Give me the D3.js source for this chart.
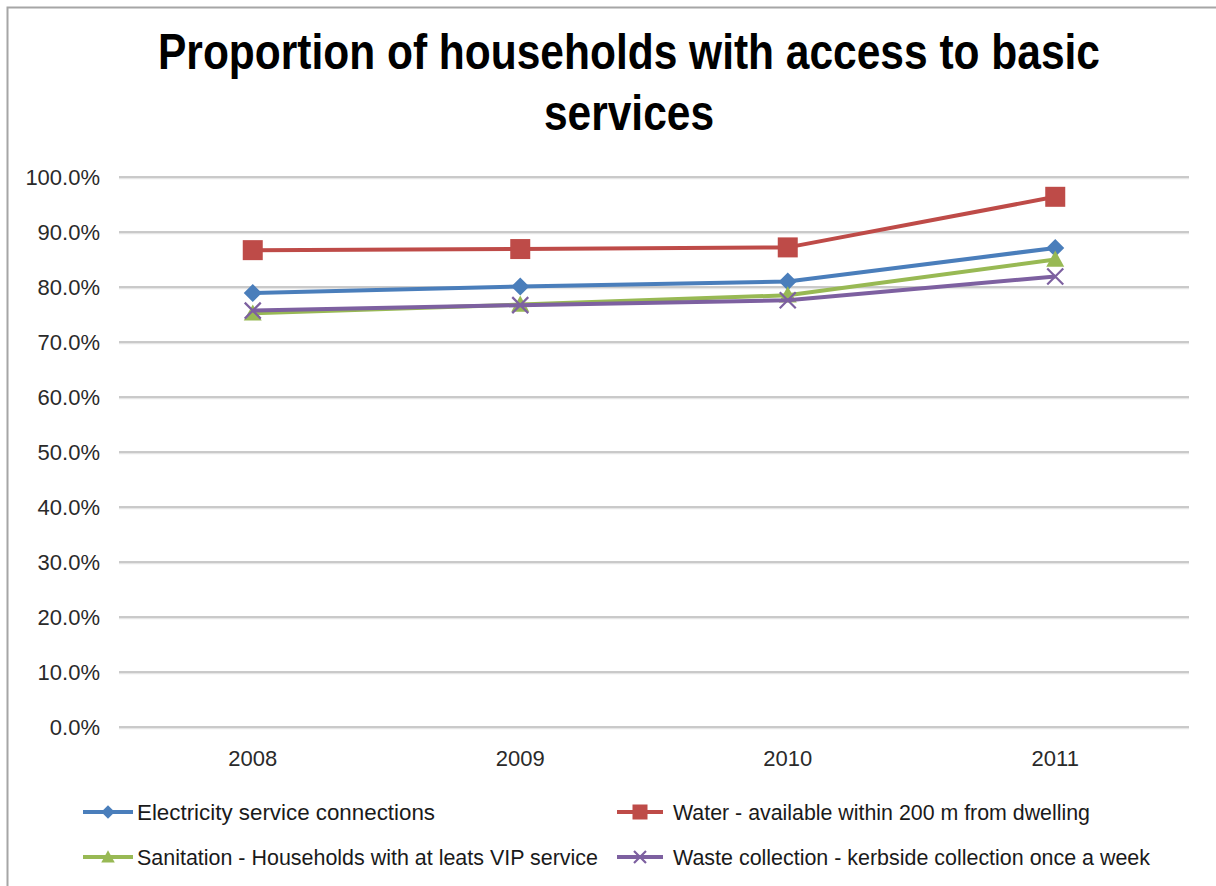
<!DOCTYPE html>
<html>
<head>
<meta charset="utf-8">
<script src="https://cdn.jsdelivr.net/npm/d3@7"></script>
<style>
  html, body { margin: 0; padding: 0; background: #fff; }
  svg { display: block; }
  text { font-family: "Liberation Sans", Arial, sans-serif; }
</style>
</head>
<body>
<svg id="chart" width="1216" height="886"></svg>
<script>
// Survey years and series values (share of households)
const years = ["2008", "2009", "2010", "2011"];
const electricity = [0.789, 0.801, 0.810, 0.871];
const water = [0.867, 0.869, 0.872, 0.964];
const sanitation = [0.752, 0.768, 0.785, 0.850];
const waste = [0.757, 0.767, 0.776, 0.819];
const seriesNames = [
  "Electricity  service connections",
  "Water - available within 200 m from dwelling",
  "Sanitation - Households with at leats VIP service",
  "Waste collection - kerbside collection once a week"
];
const yTicks = [0, 0.1, 0.2, 0.3, 0.4, 0.5, 0.6, 0.7, 0.8, 0.9, 1.0];
const titleLines = ["Proportion of households with access to basic", "services"];

const series = [
  { name: seriesNames[0], values: electricity, color: "#4a7ebb", marker: "diamond" },
  { name: seriesNames[1], values: water, color: "#be4b48", marker: "square" },
  { name: seriesNames[2], values: sanitation, color: "#98b954", marker: "triangle" },
  { name: seriesNames[3], values: waste, color: "#7d60a0", marker: "cross" }
];

const svg = d3.select("#chart");

// Chart area frame
svg.append("rect")
  .attr("x", 7.5).attr("y", 7.5)
  .attr("width", 1230).attr("height", 900)
  .attr("fill", "#fff")
  .attr("stroke", "#a6a6a6")
  .attr("stroke-width", 2);

// Title: bold, horizontally condensed, two centred lines
const titleCondense = 0.85;
svg.append("g").selectAll("g")
  .data(titleLines)
  .join("g")
  .attr("transform", (d, i) => `translate(629,${69 + i * 61}) scale(${titleCondense},1)`)
  .append("text")
  .attr("x", 0).attr("y", 0)
  .attr("text-anchor", "middle")
  .attr("font-size", 50)
  .attr("font-weight", "bold")
  .attr("fill", "#000")
  .text(d => d);

const plot = { left: 119, right: 1189, top: 177, bottom: 727 };

const x = d3.scaleBand().domain(years).range([plot.left, plot.right]);
const y = d3.scaleLinear().domain([0, 1]).range([plot.bottom, plot.top]);
const cx = d => x(d) + x.bandwidth() / 2;

// Horizontal gridlines with a soft shadow
const grid = svg.append("g");
grid.selectAll("line.shadow")
  .data(yTicks)
  .join("line")
  .attr("class", "shadow")
  .attr("x1", plot.left).attr("x2", plot.right)
  .attr("y1", d => y(d) + 1.5).attr("y2", d => y(d) + 1.5)
  .attr("stroke", "#e6e6e6").attr("stroke-width", 1.5);
grid.selectAll("line.main")
  .data(yTicks)
  .join("line")
  .attr("class", "main")
  .attr("x1", plot.left).attr("x2", plot.right)
  .attr("y1", d => y(d)).attr("y2", d => y(d))
  .attr("stroke", "#b8b8b8").attr("stroke-width", 1.5);

// Y axis labels
const yAxis = d3.axisLeft(y)
  .tickValues(yTicks)
  .tickFormat(d3.format(".1%"))
  .tickSize(0)
  .tickPadding(19);
const yg = svg.append("g").attr("transform", `translate(${plot.left},0)`).call(yAxis);
yg.select(".domain").remove();
yg.selectAll("text")
  .attr("font-size", 22)
  .attr("fill", "#2a2a2a")
  .attr("font-family", "'Liberation Sans', Arial, sans-serif");

// X axis labels
const xAxis = d3.axisBottom(x).tickSize(0).tickPadding(23);
const xg = svg.append("g").attr("transform", `translate(0,${plot.bottom})`).call(xAxis);
xg.select(".domain").remove();
xg.selectAll("text")
  .attr("font-size", 22)
  .attr("fill", "#2a2a2a")
  .attr("font-family", "'Liberation Sans', Arial, sans-serif");

// Marker shapes
function drawMarker(g, type, color, px, py, scale) {
  const s = scale || 1;
  if (type === "diamond") {
    const r = 9 * s;
    g.append("path")
      .attr("d", `M${px},${py - r}L${px + r},${py}L${px},${py + r}L${px - r},${py}Z`)
      .attr("fill", color);
  } else if (type === "square") {
    const h = 10 * s;
    g.append("rect")
      .attr("x", px - h).attr("y", py - h)
      .attr("width", 2 * h).attr("height", 2 * h)
      .attr("fill", color);
  } else if (type === "triangle") {
    const r = 9 * s;
    g.append("path")
      .attr("d", `M${px},${py - r}L${px + r},${py + r * 0.8}L${px - r},${py + r * 0.8}Z`)
      .attr("fill", color);
  } else if (type === "cross") {
    const r = 8 * s;
    g.append("path")
      .attr("d", `M${px - r},${py - r}L${px + r},${py + r}M${px + r},${py - r}L${px - r},${py + r}`)
      .attr("stroke", color).attr("stroke-width", 2.2).attr("fill", "none");
  }
}

// Series lines and markers
const line = d3.line().x((d, i) => cx(years[i])).y(d => y(d));
series.forEach(s => {
  const g = svg.append("g");
  g.append("path")
    .datum(s.values)
    .attr("d", line)
    .attr("fill", "none")
    .attr("stroke", s.color)
    .attr("stroke-width", 4)
    .attr("stroke-linejoin", "round");
  s.values.forEach((v, i) => drawMarker(g, s.marker, s.color, cx(years[i]), y(v)));
});

// Legend
const legendPos = [
  { lx1: 83, lx2: 133, tx: 137, ty: 812, w: 298 },
  { lx1: 617, lx2: 663, tx: 673, ty: 812, w: 417 },
  { lx1: 83, lx2: 133, tx: 137, ty: 857, w: 461 },
  { lx1: 617, lx2: 663, tx: 673, ty: 857, w: 477 }
];
series.forEach((s, i) => {
  const p = legendPos[i];
  const g = svg.append("g");
  g.append("line")
    .attr("x1", p.lx1).attr("x2", p.lx2)
    .attr("y1", p.ty).attr("y2", p.ty)
    .attr("stroke", s.color).attr("stroke-width", 4);
  drawMarker(g, s.marker, s.color, (p.lx1 + p.lx2) / 2, p.ty, 0.75);
  g.append("text")
    .attr("x", p.tx).attr("y", p.ty)
    .attr("dy", "0.36em")
    .attr("font-size", 22)
    .attr("fill", "#1a1a1a")
    .attr("textLength", p.w)
    .attr("lengthAdjust", "spacingAndGlyphs")
    .text(s.name);
});
</script>
</body>
</html>
